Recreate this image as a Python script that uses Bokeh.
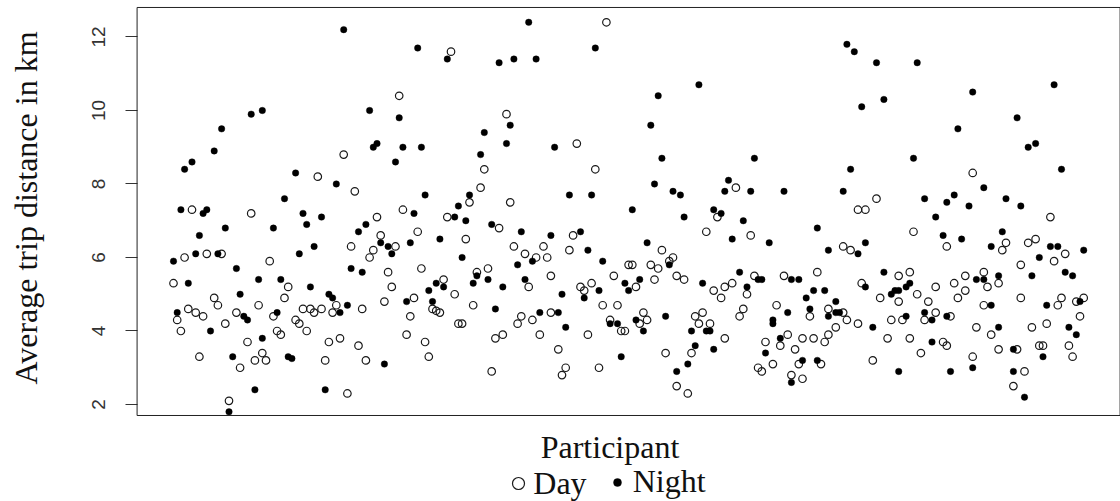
from bokeh.plotting import figure
from bokeh.models import Range1d, FixedTicker, Label, Legend, LegendItem, ColumnDataSource, BoxAnnotation
from bokeh.embed import file_html
from bokeh.resources import INLINE

# ---- data ----
day_participant = [
    1, 2, 3, 4, 5, 6, 7, 8, 9, 10, 12, 13, 14, 15, 16, 18, 19, 21, 22, 23, 24, 25,
    26, 27, 28, 29, 30, 31, 32, 34, 35, 36, 37, 38, 39, 40, 41, 42, 43, 44, 45, 46, 47, 48, 49, 50,
    51, 52, 53, 54, 55, 56, 57, 58,
    59, 60, 61, 62, 63, 64, 65, 66, 67, 68, 69, 70, 71, 72, 73, 74, 75, 76, 77, 78, 79, 80, 81, 82,
    83, 84, 85, 86, 87, 88, 89, 90, 91, 92,
    93, 94, 95, 96, 97, 98, 99, 100, 101, 102, 103, 103, 105, 106, 107, 108, 109, 110, 111, 112, 113,
    114, 115, 116, 117, 118, 119, 120, 121, 122, 123, 124, 125, 126,
    127, 128, 129, 130, 131, 132, 133, 134, 135, 136, 137, 137, 139, 140, 141, 142, 143, 144, 145, 146,
    147, 148, 149, 150, 150, 152, 153, 154, 155, 156, 157, 158, 159, 160,
    161, 163, 164, 165, 166, 167, 168, 169, 170, 171, 171, 173, 174, 175, 176, 177, 178, 178, 180, 182,
    182, 183, 184, 186, 186, 187, 188, 190, 191, 192,
    194, 195, 197, 197, 198, 200, 200, 201, 202, 203, 204, 205, 207, 207, 209, 210, 210, 211, 212, 213,
    215, 215, 217, 217, 218, 220, 220, 221, 222, 224, 224,
    225, 226, 228, 229, 230, 230, 231, 232, 233, 234, 235, 236, 237, 238, 239, 240, 241, 242, 243, 244,
    245, 246, 247,
]
day_km = [
    5.3, 4.3, 4.0, 6.0, 4.6, 7.3, 4.5, 3.3, 4.4, 6.1, 4.9, 4.7, 6.1, 4.2, 2.1, 4.5, 3.0, 3.7, 7.2, 3.2, 4.7, 3.4,
    3.2, 5.9, 4.4, 4.0, 3.9, 4.9, 5.2, 4.3, 4.2, 4.6, 4.0, 4.6, 4.5, 8.2, 4.6, 3.2, 3.7, 4.5, 4.7, 3.8, 8.8, 2.3, 6.3, 7.8,
    3.6, 4.6, 3.2, 6.0, 6.2, 7.1, 6.6, 4.8,
    5.6, 5.2, 6.3, 10.4, 7.3, 3.9, 4.4, 4.9, 6.7, 5.7, 3.7, 3.3, 4.6, 4.55, 4.5, 5.4, 7.1, 11.6, 5.0, 4.2, 4.2, 6.5, 7.5, 4.7,
    5.6, 7.9, 8.4, 5.7, 2.9, 3.8, 6.8, 3.9, 9.9, 7.5,
    6.3, 4.2, 4.4, 6.1, 5.2, 4.3, 6.0, 3.9, 6.3, 6.0, 5.5, 4.5, 3.5, 2.8, 3.0, 6.2, 6.6, 9.1, 5.2, 5.1, 3.9,
    5.3, 8.4, 3.0, 4.7, 12.4, 4.3, 5.5, 4.7, 4.0, 4.0, 5.8, 5.8, 5.2,
    4.2, 4.5, 4.3, 5.8, 5.4, 5.7, 6.2, 3.4, 5.9, 6.0, 2.5, 5.5, 5.4, 2.3, 3.4, 4.4, 4.2, 4.5, 6.7, 4.2,
    5.1, 7.1, 4.9, 3.8, 5.2, 5.3, 7.9, 4.4, 4.6, 5.0, 6.6, 5.5, 3.0, 2.9,
    3.7, 3.1, 4.7, 3.6, 5.5, 3.9, 2.8, 3.5, 3.1, 2.7, 3.8, 4.4, 3.8, 5.6, 3.1, 3.7, 3.9, 4.6, 4.1, 4.5,
    6.3, 4.3, 6.2, 4.2, 7.3, 5.3, 7.3, 3.2, 7.6, 4.9,
    3.8, 4.3, 5.5, 4.8, 4.3, 5.6, 3.8, 6.7, 5.0, 3.4, 4.3, 4.8, 5.2, 4.5, 3.7, 3.6, 6.3, 4.4, 5.3, 4.9,
    5.5, 5.1, 8.3, 3.3, 4.1, 5.6, 4.7, 5.2, 3.9, 5.3, 3.5,
    6.2, 6.4, 2.5, 3.5, 5.8, 4.9, 2.9, 6.4, 4.1, 6.5, 3.6, 3.6, 4.2, 7.1, 5.9, 4.7, 4.9, 6.1, 3.6, 3.3,
    4.8, 4.4, 4.9,
]

night_participant = [
    1, 2, 3, 4, 5, 6, 7, 8, 9, 10, 11, 12, 13, 14, 15, 16, 17, 18, 19, 20, 21, 22, 23, 24, 25, 25,
    28, 29, 30, 31, 32, 33, 34, 35, 36, 37, 38, 39, 41, 42, 43, 44, 45, 46, 47, 48, 49, 51, 52, 53,
    54, 55, 56, 57, 58,
    59, 60, 61, 62, 63, 64, 65, 66, 67, 68, 69, 70, 71, 72, 73, 74, 75, 77, 78, 79, 80, 81, 82, 83,
    84, 85, 86, 87, 88, 89, 90, 91, 92,
    93, 94, 95, 96, 97, 98, 99, 100, 103, 104, 105, 106, 107, 108, 111, 112, 113, 114, 115, 116, 117,
    119, 121, 122, 123, 124, 125, 126,
    127, 128, 129, 130, 131, 132, 133, 134, 135, 136, 137, 138, 139, 140, 141, 142, 143, 144, 145, 146,
    147, 147, 149, 150, 151, 152, 154, 155, 156, 157, 158, 159, 160,
    161, 162, 163, 163, 165, 166, 167, 168, 168, 170, 171, 172, 173, 174, 175, 175, 177, 178, 178, 180,
    180, 181, 182, 183, 184, 185, 186, 187, 188, 188, 190, 191, 193, 193,
    195, 196, 197, 197, 199, 199, 200, 201, 202, 204, 204, 206, 206, 207, 209, 210, 210, 211, 212, 213,
    214, 216, 217, 217, 218, 220, 220, 222, 222, 224, 224,
    225, 226, 228, 228, 229, 230, 231, 232, 233, 234, 235, 236, 237, 238, 239, 240, 241, 242, 243, 244,
    245, 246, 247,
]
night_km = [
    5.9, 4.5, 7.3, 8.4, 5.3, 8.6, 6.1, 6.6, 7.2, 7.3, 4.0, 8.9, 6.1, 9.5, 6.8, 1.8, 3.3, 5.7, 5.0, 4.4, 4.3, 9.9, 2.4, 5.4, 10.0, 3.8,
    6.8, 4.5, 5.4, 7.6, 3.3, 3.25, 8.3, 6.1, 7.2, 6.9, 5.2, 6.3, 7.1, 2.4, 5.0, 4.9, 8.0, 4.5, 12.2, 4.7, 5.7, 6.7, 5.6, 6.9,
    10.0, 9.0, 9.1, 6.4, 3.1,
    6.3, 6.1, 8.6, 9.8, 9.0, 4.8, 6.4, 7.2, 11.7, 9.0, 7.7, 5.1, 4.8, 5.3, 6.5, 5.2, 11.4, 7.1, 7.4, 6.0, 7.0, 7.7, 5.3, 5.5,
    8.8, 9.4, 5.4, 6.9, 4.6, 11.3, 5.2, 9.1, 9.6,
    11.4, 5.8, 6.7, 5.4, 12.4, 5.9, 11.4, 4.5, 6.6, 9.0, 4.5, 5.0, 4.1, 7.7, 6.7, 4.9, 6.2, 7.7, 11.7, 5.1, 5.9,
    4.2, 4.2, 3.3, 5.3, 5.1, 7.3, 4.3,
    5.4, 4.0, 6.4, 9.6, 8.0, 10.4, 8.7, 4.4, 5.8, 7.8, 2.9, 7.7, 7.1, 3.1, 4.0, 3.6, 10.7, 5.3, 4.0, 4.0,
    7.3, 3.5, 7.2, 7.8, 8.1, 6.5, 5.6, 7.0, 5.2, 7.8, 8.7, 5.4, 5.4,
    3.4, 6.4, 4.3, 4.2, 3.8, 7.8, 4.5, 5.4, 2.6, 5.4, 3.2, 4.9, 4.6, 5.1, 6.8, 3.2, 5.1, 6.2, 4.4, 4.8,
    4.5, 4.5, 7.8, 11.8, 8.4, 11.6, 6.1, 10.1, 6.4, 5.2, 4.1, 11.3, 10.3, 5.6,
    5.0, 5.1, 5.1, 2.9, 5.2, 4.4, 5.3, 8.7, 11.3, 7.6, 4.5, 4.3, 3.7, 7.1, 6.6, 7.5, 4.4, 2.9, 7.7, 9.5,
    6.5, 7.4, 10.5, 3.0, 5.4, 7.9, 5.4, 6.3, 4.7, 5.5, 4.1,
    6.7, 7.6, 3.5, 2.9, 9.8, 7.4, 2.2, 9.0, 5.5, 9.1, 6.0, 3.3, 4.7, 6.3, 10.7, 6.3, 8.4, 5.6, 4.1, 5.5,
    3.9, 4.8, 6.2,
]

y_ticks = [2, 4, 6, 8, 10, 12]
series_names = ["Day", "Night"]
x_title = "Participant"
y_title = "Average trip distance in km"

# plotting-region limits: x padded 4% like R; y limits as measured on the reference
n_part = max(max(day_participant), max(night_participant))
x_pad = 0.04 * (n_part - 1)
box_left, box_right = 1 - x_pad, n_part + x_pad
box_bottom, box_top = 1.701, 12.803

W, H = 1120, 501
SERIF = "Liberation Serif"
TXT = "32px"

# ---- figure: the whole canvas is the data frame; the y axis sits on the box edge ----
p = figure(width=W, height=H,
           x_range=Range1d(-45.757, 256.946), y_range=Range1d(-0.6395, 12.993),
           output_backend="svg", toolbar_location=None,
           min_border_left=0, min_border_right=0, min_border_top=0, min_border_bottom=0)
p.xaxis.visible = False
p.xgrid.visible = False
p.ygrid.visible = False
p.outline_line_color = None
p.background_fill_color = "white"
p.border_fill_color = "white"

ya = p.yaxis[0]
ya.fixed_location = box_left
ya.ticker = FixedTicker(ticks=y_ticks)
ya.major_label_orientation = "vertical"
ya.axis_line_color = None
ya.major_tick_out = 12
ya.major_tick_in = 0
ya.minor_tick_out = 0
ya.minor_tick_in = 0
ya.major_tick_line_color = "#333333"
ya.major_label_standoff = 20
ya.major_label_text_font = "Liberation Sans"
ya.major_label_text_font_size = "19px"
ya.major_label_text_color = "#333333"

p.add_layout(BoxAnnotation(left=box_left, right=box_right, bottom=box_bottom, top=box_top,
                           fill_alpha=0, line_color="#222222", line_width=1, line_alpha=1))

day_src = ColumnDataSource(dict(participant=day_participant, km=day_km))
night_src = ColumnDataSource(dict(participant=night_participant, km=night_km))

day_r = p.scatter(x="participant", y="km", source=day_src, marker="circle", size=7.5,
                  fill_color=None, line_color="#1a1a1a", line_width=1.2)
night_r = p.scatter(x="participant", y="km", source=night_src, marker="circle", size=6.5,
                    fill_color="#000000", line_color="#000000", line_width=0.4)

# axis titles (screen units: canvas, origin bottom-left)
p.add_layout(Label(x=25, y=H - 207.5, x_units="screen", y_units="screen", text=y_title,
                   angle=90, angle_units="deg", text_align="center", text_baseline="middle",
                   text_font=SERIF, text_font_size=TXT, text_color="#111111"))
p.add_layout(Label(x=609.5, y=H - 446.5, x_units="screen", y_units="screen", text=x_title,
                   text_align="center", text_baseline="middle",
                   text_font=SERIF, text_font_size=TXT, text_color="#111111"))

# legend (one per series so each key keeps its own marker size)
common = dict(padding=0, margin=0, spacing=0, border_line_color=None, background_fill_alpha=0,
              label_text_font=SERIF, label_text_font_size=TXT,
              label_text_color="#111111", label_height=38)
leg_day = Legend(items=[LegendItem(label=series_names[0], renderers=[day_r])],
                 location=(503.3, -1.0), glyph_width=30, glyph_height=30, label_standoff=-4, **common)
leg_night = Legend(items=[LegendItem(label=series_names[1], renderers=[night_r])],
                   location=(606.7, 0.5), glyph_width=20, glyph_height=20, label_standoff=6, **common)
p.add_layout(leg_day)
p.add_layout(leg_night)

open("out.html", "w").write(file_html(p, INLINE))
